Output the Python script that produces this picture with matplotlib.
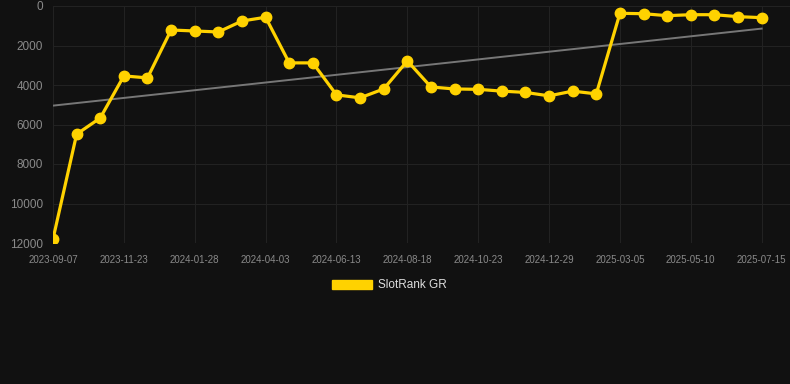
import numpy as np
import matplotlib.pyplot as plt
from matplotlib.patches import Patch

plt.rcParams['font.family'] = ['Liberation Sans', 'DejaVu Sans']

# rank values (lower is better, axis is inverted)
rank = [11800, 6490, 5670, 3540, 3640, 1215, 1265, 1315, 760, 570,
        2880, 2880, 4500, 4650, 4200, 2780, 4100, 4200, 4220, 4310,
        4375, 4550, 4310, 4450, 370, 390, 490, 440, 440, 540, 590]
tick_dates = ['2023-09-07', '2023-11-23', '2024-01-28', '2024-04-03',
              '2024-06-13', '2024-08-18', '2024-10-23', '2024-12-29',
              '2025-03-05', '2025-05-10', '2025-07-15']
y_ticks = [0, 2000, 4000, 6000, 8000, 10000, 12000]

bg = '#111111'
yellow = '#FFD200'

x = np.arange(len(rank))
# linear trend through the series
slope, intercept = np.polyfit(x, rank, 1)
trend = slope * x + intercept

fig = plt.figure(figsize=(7.9, 3.84), dpi=100, facecolor=bg)
ax = fig.add_axes([53 / 790, 141 / 384, 737 / 790, 237 / 384], facecolor=bg)

ax.plot(x, trend, color='#777777', lw=1.4, zorder=2)
ax.plot(x, rank, color=yellow, lw=2.3, marker='o', ms=7.5, zorder=3)

ax.set_ylim(12000, 0)
ax.set_xlim(0, 31.2)
ax.set_yticks(y_ticks)
ax.set_yticklabels([str(v) for v in y_ticks])
ax.set_xticks(x[::3])
ax.set_xticklabels(tick_dates)

ax.grid(True, color='#222222', lw=0.8)
ax.set_axisbelow(True)
for s in ax.spines.values():
    s.set_visible(False)
ax.tick_params(axis='y', length=0, pad=7, labelsize=8.5, labelcolor='#8a8a8a')
ax.tick_params(axis='x', length=0, pad=8.5, labelsize=7, labelcolor='#8a8a8a')

leg = fig.legend(handles=[Patch(color=yellow, label='SlotRank GR')],
                 loc='center', bbox_to_anchor=(0.5 - 6 / 790, 1 - 285.5 / 384),
                 frameon=False, fontsize=8.5, labelcolor='#dddddd',
                 handlelength=3.4, handleheight=0.85, handletextpad=0.5)

fig.savefig('out.png', dpi=100, facecolor=bg)
